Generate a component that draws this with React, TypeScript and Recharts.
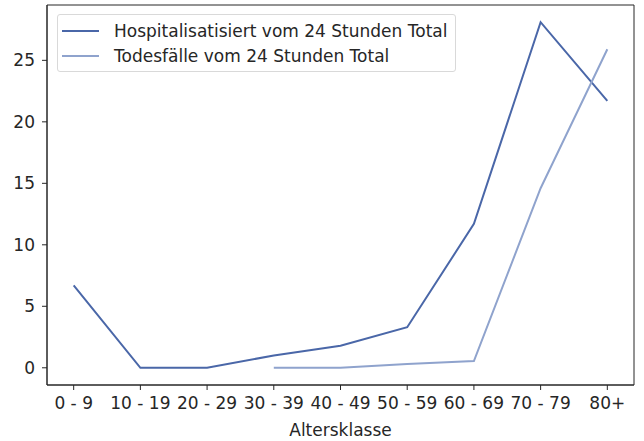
import { LineChart, Line, XAxis, YAxis, ReferenceArea } from "recharts";

const categories = ["0 - 9", "10 - 19", "20 - 29", "30 - 39", "40 - 49", "50 - 59", "60 - 69", "70 - 79", "80+"];
const hospitalisiert = [6.7, 0, 0, 1.0, 1.8, 3.3, 11.7, 28.1, 21.7];
const todesfaelle = [null, null, null, 0, 0, 0.3, 0.55, 14.6, 25.9];
const yTicks = [0, 5, 10, 15, 20, 25];

const DARK = "#4A67A8";
const LIGHT = "#8FA3CD";
const FONT = "'DejaVu Sans', sans-serif";
const FS = 17;

const data = categories.map((c, i) => ({
  idx: i,
  name: c,
  hosp: hospitalisiert[i],
  tod: todesfaelle[i],
}));

const series = [
  { key: "hosp", label: "Hospitalisatisiert vom 24 Stunden Total", color: DARK },
  { key: "tod", label: "Todesfälle vom 24 Stunden Total", color: LIGHT },
];

function LegendBox() {
  return (
    <div
      style={{
        position: "absolute",
        left: 57,
        top: 14,
        border: "1px solid #d9d9d9",
        borderRadius: 3,
        background: "rgba(255,255,255,0.8)",
        padding: "3px 8px 3px 4px",
        fontFamily: FONT,
        fontSize: FS,
        color: "#262626",
        whiteSpace: "nowrap",
      }}
    >
      {series.map((s) => (
        <div key={s.key} style={{ display: "flex", alignItems: "center", height: 25 }}>
          <span style={{ display: "inline-block", width: 37, height: 2, background: s.color, marginRight: 15 }} />
          <span>{s.label}</span>
        </div>
      ))}
    </div>
  );
}

const tickStyle = { fill: "#262626", fontSize: FS, fontFamily: FONT };
const axisStroke = "#262626";

export default function App() {
  return (
    <div style={{ position: "absolute", left: 0, top: 0, width: 644, height: 441, background: "#fff" }}>
      <LineChart width={644} height={441} data={data} margin={{ top: 5, right: 10, left: 0, bottom: 0 }}>
        <XAxis
          dataKey="idx"
          type="number"
          domain={[-0.4, 8.4]}
          ticks={[0, 1, 2, 3, 4, 5, 6, 7, 8]}
          tickFormatter={(v: number) => categories[v]}
          interval={0}
          allowDataOverflow
          height={56}
          tick={tickStyle}
          tickSize={5}
          tickMargin={7}
          stroke={axisStroke}
          label={{ value: "Altersklasse", position: "insideBottom", offset: 5, style: { ...tickStyle } }}
        />
        <YAxis
          type="number"
          domain={[-1.4, 29.5]}
          ticks={yTicks}
          allowDataOverflow
          width={47}
          tick={tickStyle}
          tickSize={5}
          tickMargin={7}
          stroke={axisStroke}
        />
        <ReferenceArea
          x1={-0.4}
          x2={8.4}
          y1={-1.4}
          y2={29.5}
          fill="none"
          stroke={axisStroke}
          strokeWidth={1}
          fillOpacity={0}
          strokeOpacity={1}
        />
        {series.map((s) => (
          <Line
            key={s.key}
            type="linear"
            dataKey={s.key}
            name={s.label}
            stroke={s.color}
            strokeWidth={2}
            dot={false}
            activeDot={false}
            connectNulls={false}
            isAnimationActive={false}
          />
        ))}
      </LineChart>
      <LegendBox />
    </div>
  );
}
